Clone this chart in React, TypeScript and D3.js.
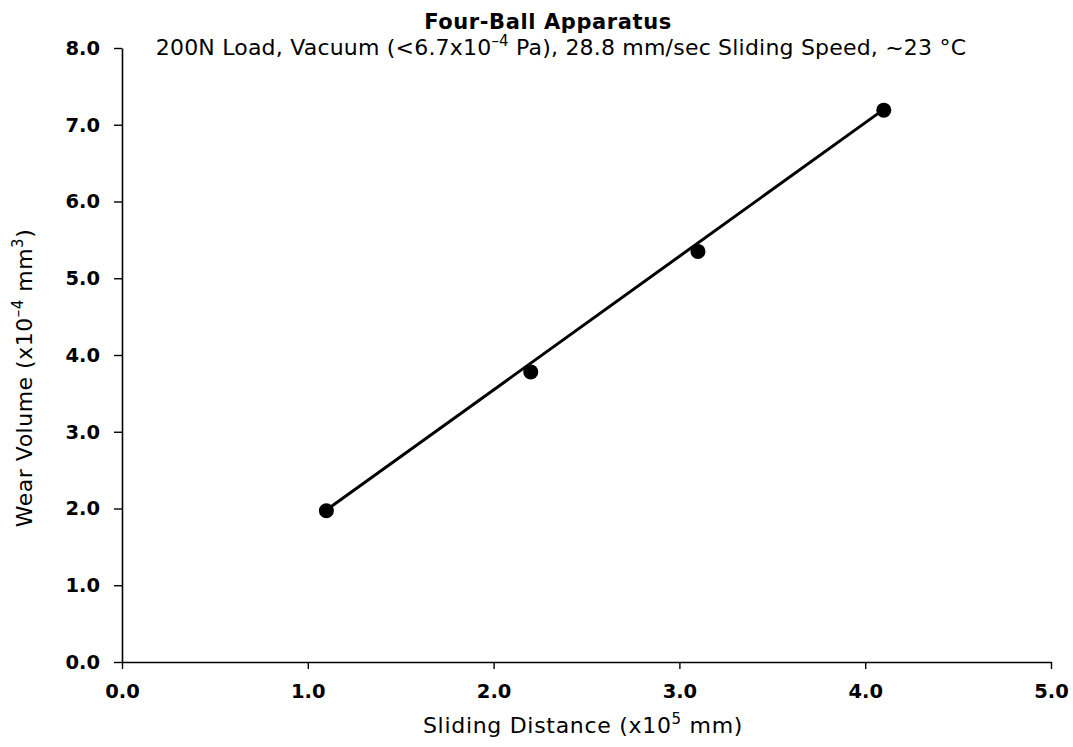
import React, { useEffect, useRef } from 'react'
import * as d3 from 'd3'

// sliding distance (x10^5 mm) and wear volume (x10^-4 mm^3)
const distance = [1.1, 2.2, 3.1, 4.1]
const wearVolume = [1.97, 3.78, 5.35, 7.19]

// end points of the drawn fit line
const fitDistance = [1.1, 4.1]
const fitVolume = [1.98, 7.2]

const xTicks = [0, 1, 2, 3, 4, 5]
const yTicks = [0, 1, 2, 3, 4, 5, 6, 7, 8]

const title = 'Four-Ball Apparatus'

export default function App() {
    const ref = useRef<SVGSVGElement>(null)

    let width = 1073, height = 747
    let margin = { left: 122, right: 22, top: 48, bottom: 85 }
    let font = '"DejaVu Sans", sans-serif'

    function drawChart() {
        let svg = d3.select(ref.current)
        svg.selectAll('*').remove()

        let x = d3.scaleLinear().domain([0, 5]).range([margin.left, width - margin.right])
        let y = d3.scaleLinear().domain([0, 8]).range([height - margin.bottom, margin.top])

        // x axis
        let xAxis = svg.append('g')
            .attr('transform', 'translate(0,' + y(0) + ')')
            .call(d3.axisBottom(x).tickValues(xTicks).tickSize(7).tickSizeOuter(0).tickFormat(d3.format('.1f')))
        xAxis.select('.domain').attr('stroke-width', 1.6)
        xAxis.selectAll('.tick line').attr('stroke-width', 1.4)
        xAxis.selectAll('.tick text')
            .attr('y', 36)
            .attr('dy', null)
            .style('font-family', font)
            .style('font-size', '19.5px')
            .style('font-weight', 'bold')
            .attr('fill', '#000')

        // y axis
        let yAxis = svg.append('g')
            .attr('transform', 'translate(' + x(0) + ',0)')
            .call(d3.axisLeft(y).tickValues(yTicks).tickSize(8).tickPadding(14).tickSizeOuter(0).tickFormat(d3.format('.1f')))
        yAxis.select('.domain').attr('stroke-width', 1.6)
        yAxis.selectAll('.tick line').attr('stroke-width', 1.4)
        yAxis.selectAll('.tick text')
            .style('font-family', font)
            .style('font-size', '19.5px')
            .style('font-weight', 'bold')
            .attr('fill', '#000')

        // fit line
        let fit = fitDistance.map((d, i) => [d, fitVolume[i]] as [number, number])
        svg.append('path')
            .datum(fit)
            .attr('d', d3.line<[number, number]>().x(d => x(d[0])).y(d => y(d[1])))
            .attr('fill', 'none')
            .attr('stroke', '#000')
            .attr('stroke-width', 3)

        // data points
        svg.append('g')
            .selectAll('circle')
            .data(distance)
            .enter()
            .append('circle')
            .attr('cx', d => x(d))
            .attr('cy', (d, i) => y(wearVolume[i]))
            .attr('r', 7.5)
            .attr('fill', '#000')

        // titles
        svg.append('text')
            .attr('x', 548)
            .attr('y', 29)
            .attr('text-anchor', 'middle')
            .style('font-family', font)
            .style('font-size', '21px')
            .style('font-weight', 'bold')
            .style('letter-spacing', '0.6px')
            .text(title)

        let sub = svg.append('text')
            .attr('x', 561)
            .attr('y', 55)
            .attr('text-anchor', 'middle')
            .style('font-family', font)
            .style('font-size', '22px')
            .style('letter-spacing', '0.2px')
        sub.append('tspan').text('200N Load, Vacuum (<6.7x10')
        sub.append('tspan').attr('dy', -9).style('font-size', '15px').text('\u20134')
        sub.append('tspan').attr('dy', 9).text(' Pa), 28.8 mm/sec Sliding Speed, ~23 \u00b0C')

        let xTitle = svg.append('text')
            .attr('x', 583)
            .attr('y', 733)
            .attr('text-anchor', 'middle')
            .style('font-family', font)
            .style('font-size', '22px')
            .style('letter-spacing', '0.7px')
        xTitle.append('tspan').text('Sliding Distance (x10')
        xTitle.append('tspan').attr('dy', -9).style('font-size', '15px').text('5')
        xTitle.append('tspan').attr('dy', 9).text(' mm)')

        let yTitle = svg.append('text')
            .attr('transform', 'translate(32,378) rotate(-90)')
            .attr('text-anchor', 'middle')
            .style('font-family', font)
            .style('font-size', '22px')
            .style('letter-spacing', '0.5px')
        yTitle.append('tspan').text('Wear Volume (x10')
        yTitle.append('tspan').attr('dy', -9).style('font-size', '15px').text('\u20134')
        yTitle.append('tspan').attr('dy', 9).text(' mm')
        yTitle.append('tspan').attr('dy', -9).style('font-size', '15px').text('3')
        yTitle.append('tspan').attr('dy', 9).text(')')
    }

    useEffect(() => {
        drawChart()
    }, [])

    return (
        <svg ref={ref} width={width} height={height}
            style={{ position: 'absolute', left: 0, top: 0, background: '#fff' }} />
    )
}
